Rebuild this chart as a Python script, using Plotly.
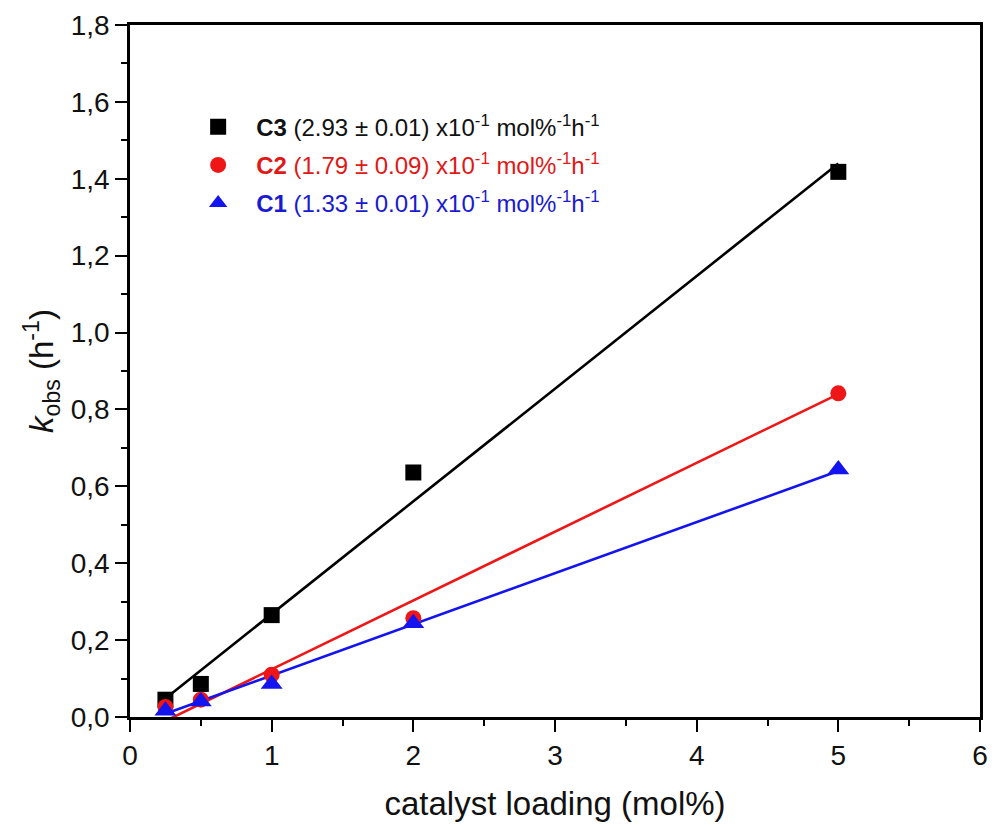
import plotly.graph_objects as go

# catalyst loading (mol%)
loading = [0.25, 0.5, 1, 2, 5]

# observed rate constants k_obs (h^-1)
k_c3 = [0.045, 0.086, 0.265, 0.636, 1.418]
k_c2 = [0.026, 0.045, 0.110, 0.257, 0.842]
k_c1 = [0.016, 0.040, 0.086, 0.244, 0.644]

# linear fits: slope (x10^-1 mol%^-1 h^-1), intercept (h^-1)
slope = {"C3": 2.93, "C2": 1.79, "C1": 1.33}
slope_err = {"C3": 0.01, "C2": 0.09, "C1": 0.01}
intercept = {"C3": -0.025, "C2": -0.055, "C1": -0.025}
fit_range = [0.25, 5]

colors = {"C3": "#000000", "C2": "#ee1616", "C1": "#1414ee"}
text_colors = {"C3": "#111111", "C2": "#e01818", "C1": "#1a1ad0"}
symbols = {"C3": "square", "C2": "circle", "C1": "triangle-up"}
sizes = {"C3": 16, "C2": 16, "C1": 19}
series = {"C3": k_c3, "C2": k_c2, "C1": k_c1}

fig = go.Figure()

# fit lines
for key in ["C3", "C2", "C1"]:
    m = slope[key] / 10
    b = intercept[key]
    fig.add_trace(go.Scatter(
        x=fit_range, y=[m * x + b for x in fit_range],
        mode="lines", line=dict(color=colors[key], width=2.6),
        showlegend=False, hoverinfo="skip",
    ))

# measured points
for key in ["C3", "C2", "C1"]:
    label = (f'<span style="color:{text_colors[key]}"><b>{key}</b> '
             f'({slope[key]:.2f} \u00b1 {slope_err[key]:.2f}) '
             f'x10<sup>-1</sup> mol%<sup>-1</sup>h<sup>-1</sup></span>')
    fig.add_trace(go.Scatter(
        x=loading, y=series[key], mode="markers", name=label,
        legendgroup=key,
        marker=dict(symbol=symbols[key], size=sizes[key], color=colors[key],
                    line=dict(width=0)),
        cliponaxis=False,
    ))

axis_common = dict(
    showline=True, linecolor="black", linewidth=2.5, mirror=True,
    ticks="outside", ticklen=12, tickwidth=2, tickcolor="black",
    showgrid=False, zeroline=False,
    tickfont=dict(size=28, color="#111111"),
)

fig.update_xaxes(
    range=[0, 6], dtick=1, tickformat="d",
    minor=dict(ticks="outside", ticklen=6, tickwidth=2, tickcolor="black", dtick=0.5),
    title=dict(text="catalyst loading (mol%)", font=dict(size=33, color="#111111"), standoff=22),
    **axis_common,
)
fig.update_yaxes(
    range=[0, 1.8], dtick=0.2, tickformat=".1f",
    minor=dict(ticks="outside", ticklen=6, tickwidth=2, tickcolor="black", dtick=0.1),
    title=dict(text="<i>k</i><sub>obs</sub> (h<sup>-1</sup>)", font=dict(size=33, color="#111111"), standoff=8),
    **axis_common,
)

fig.update_layout(
    width=997, height=825,
    margin=dict(l=130, r=9, t=25, b=107),
    paper_bgcolor="white", plot_bgcolor="white",
    separators=", ",
    font=dict(family="Arial, Liberation Sans, sans-serif", color="#111111"),
    legend=dict(
        x=0.059, y=0.885, xanchor="left", yanchor="top",
        bgcolor="rgba(0,0,0,0)", borderwidth=0,
        itemwidth=66, tracegroupgap=4,
        font=dict(size=24),
    ),
)

fig.write_html("out.html")
